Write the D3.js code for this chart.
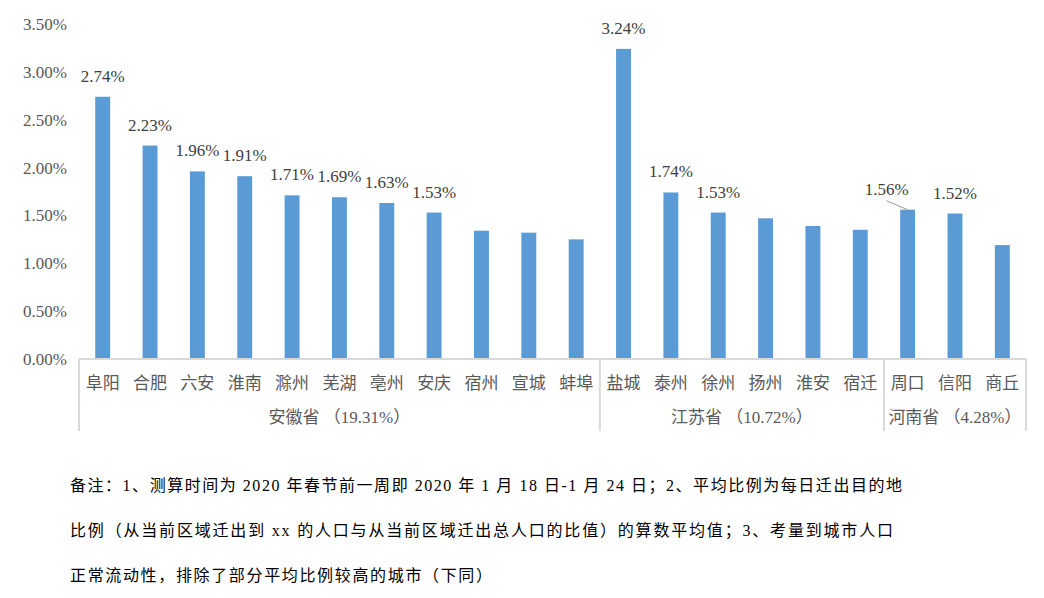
<!DOCTYPE html>
<html>
<head>
<meta charset="utf-8">
<script src="https://cdn.jsdelivr.net/npm/d3@7/dist/d3.min.js"></script>
<style>
  html, body { margin: 0; padding: 0; background: #fff; }
  svg { display: block; }
</style>
</head>
<body>
<svg id="chart" width="1044" height="598"></svg>
<script>
// ---- data ----
const cities = ["阜阳","合肥","六安","淮南","滁州","芜湖","亳州","安庆","宿州","宣城","蚌埠",
                "盐城","泰州","徐州","扬州","淮安","宿迁",
                "周口","信阳","商丘"];
const values = [2.74,2.23,1.96,1.91,1.71,1.69,1.63,1.53,1.34,1.32,1.25,
                3.24,1.74,1.53,1.47,1.39,1.35,
                1.56,1.52,1.19];
const labelled = ["阜阳","合肥","六安","淮南","滁州","芜湖","亳州","安庆","盐城","泰州","徐州","周口","信阳"];
const provinces = ["安徽省 （19.31%）","江苏省 （10.72%）","河南省 （4.28%）"];
const provinceCounts = [11, 6, 3];
const yTicks = [0,0.5,1,1.5,2,2.5,3,3.5];
const notes = [
  "备注：1、测算时间为 2020 年春节前一周即 2020 年 1 月 18 日-1 月 24 日；2、平均比例为每日迁出目的地",
  "比例（从当前区域迁出到 xx 的人口与从当前区域迁出总人口的比值）的算数平均值；3、考量到城市人口",
  "正常流动性，排除了部分平均比例较高的城市（下同）"
];

(function () {
// ---- layout ----
const svg = d3.select("#chart");
const mLeft = 79, mRight = 1026, mTop = 24, base = 359;
const FONT = "'Liberation Serif', 'Noto Sans CJK SC', serif";
const CJK = "'Noto Sans CJK SC', sans-serif";

const x = d3.scaleBand().domain(cities).range([mLeft, mRight])
  .paddingInner(0.685).paddingOuter(0.3425);
const y = d3.scaleLinear().domain([0, 3.5]).range([base, mTop]);

// y axis labels
const yAxis = d3.axisLeft(y).tickValues(yTicks)
  .tickFormat(d => d3.format(".2%")(d / 100)).tickSize(0).tickPadding(12);
const ga = svg.append("g").attr("transform", `translate(${mLeft},0)`).call(yAxis);
ga.select(".domain").remove();
ga.selectAll("text").attr("font-family", FONT).attr("font-size", 17)
  .attr("fill", "#595959");

// bars
svg.append("g").selectAll("rect").data(cities).join("rect")
  .attr("x", d => x(d)).attr("width", x.bandwidth())
  .attr("y", (d, i) => y(values[i])).attr("height", (d, i) => base - y(values[i]))
  .attr("fill", "#5b9bd5");

// data labels
const labelDx = { "周口": -21 };
const lab = svg.append("g");
cities.forEach((c, i) => {
  if (!labelled.includes(c)) return;
  const cx = x(c) + x.bandwidth() / 2;
  const dx = labelDx[c] || 0;
  const ty = y(values[i]);
  lab.append("text").attr("x", cx + dx).attr("y", ty - 15)
    .attr("text-anchor", "middle").attr("font-family", FONT).attr("font-size", 17)
    .attr("fill", "#404040").text(d3.format(".2f")(values[i]) + "%");
  if (dx) {
    lab.append("line").attr("x1", cx + dx).attr("y1", ty - 9)
      .attr("x2", cx).attr("y2", ty).attr("stroke", "#a6a6a6").attr("stroke-width", 1.2);
  }
});

// x axis lines
const axis = svg.append("g").attr("stroke", "#d9d9d9").attr("stroke-width", 2);
axis.append("line").attr("x1", mLeft).attr("x2", mRight).attr("y1", base).attr("y2", base);
let idx = 0;
const bounds = [mLeft];
provinceCounts.forEach(n => { idx += n; bounds.push(idx < cities.length ? x(cities[idx]) - x.step() * x.paddingInner() / 2 : mRight); });
bounds.forEach(b => axis.append("line").attr("x1", b).attr("x2", b).attr("y1", base).attr("y2", 431));

// category labels
svg.append("g").selectAll("text").data(cities).join("text")
  .attr("x", d => x(d) + x.bandwidth() / 2).attr("y", 389)
  .attr("text-anchor", "middle").attr("font-family", CJK).attr("font-size", 17)
  .attr("fill", "#595959").text(d => d);

// province labels
svg.append("g").selectAll("text").data(provinces).join("text")
  .attr("x", (d, i) => (bounds[i] + bounds[i + 1]) / 2).attr("y", 423)
  .attr("text-anchor", "middle").attr("font-family", FONT).attr("font-size", 17)
  .attr("fill", "#595959").text(d => d);

// notes
const noteLen = [832, 823, 422];
notes.forEach((t, i) => {
  const tx = svg.append("text").attr("x", 70).attr("y", 491 + i * 45)
    .attr("font-family", FONT).attr("font-size", 16).attr("fill", "#000").text(t);
  if (noteLen[i]) tx.attr("textLength", noteLen[i]).attr("lengthAdjust", "spacing");
});
})();
</script>
</body>
</html>
